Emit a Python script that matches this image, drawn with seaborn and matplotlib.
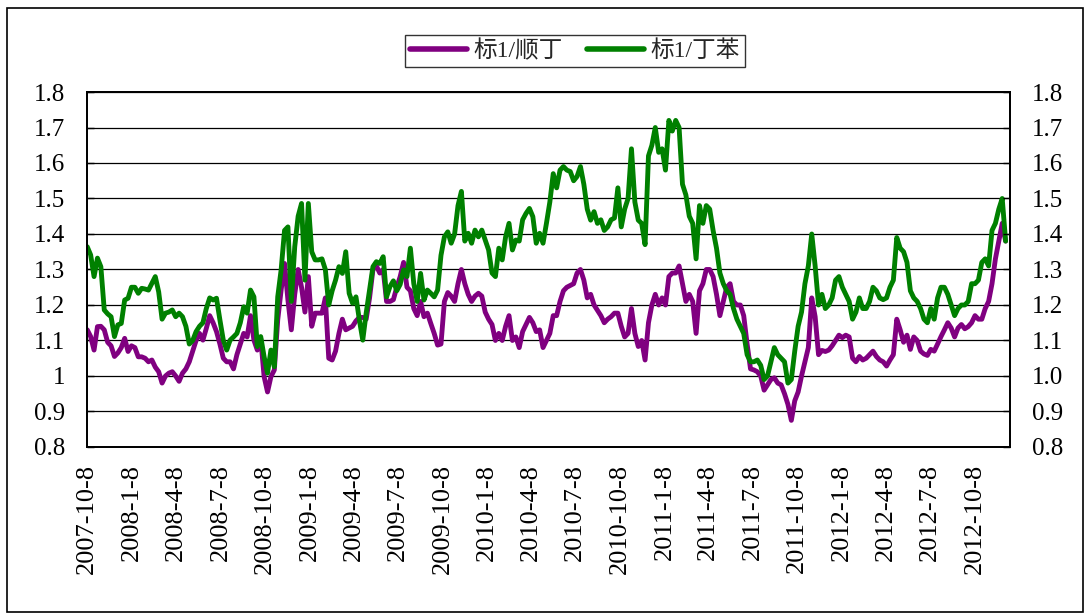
import pandas as pd
import seaborn as sns
import matplotlib.pyplot as plt
from matplotlib.patches import Rectangle

# weekly readings, first week 2007-10-08
start_date = '2007-10-08'
end_date = '2012-12-19'

ratio_shunding = [  # 标1/顺丁
    1.130, 1.111, 1.073, 1.139, 1.140, 1.130, 1.095, 1.085, 1.055, 1.065,
    1.080, 1.106, 1.069, 1.085, 1.080, 1.054, 1.054, 1.050, 1.040, 1.045,
    1.025, 1.012, 0.980, 1.000, 1.008, 1.012, 1.000, 0.985, 1.008, 1.020,
    1.040, 1.070, 1.100, 1.120, 1.101, 1.134, 1.170, 1.150, 1.125, 1.090,
    1.050, 1.040, 1.040, 1.020, 1.060, 1.090, 1.120, 1.110, 1.170, 1.101,
    1.073, 1.106, 0.998, 0.955, 0.998, 1.017, 1.158, 1.242, 1.317, 1.214,
    1.130, 1.230, 1.300, 1.250, 1.180, 1.280, 1.140, 1.177, 1.177, 1.177,
    1.220, 1.050, 1.045, 1.070, 1.120, 1.160, 1.130, 1.135, 1.140, 1.155,
    1.165, 1.165, 1.160, 1.220, 1.300, 1.310, 1.290, 1.300, 1.210, 1.210,
    1.215, 1.250, 1.280, 1.320, 1.250, 1.240, 1.190, 1.170, 1.210, 1.167,
    1.177, 1.148, 1.120, 1.087, 1.090, 1.210, 1.235, 1.225, 1.210, 1.260,
    1.300, 1.260, 1.230, 1.210, 1.225, 1.233, 1.225, 1.180, 1.160, 1.145,
    1.100, 1.120, 1.100, 1.140, 1.170, 1.100, 1.110, 1.080, 1.125, 1.145,
    1.165, 1.150, 1.125, 1.130, 1.080, 1.100, 1.120, 1.170, 1.170, 1.210,
    1.240, 1.250, 1.255, 1.260, 1.290, 1.300, 1.270, 1.220, 1.230, 1.200,
    1.185, 1.170, 1.150, 1.160, 1.167, 1.177, 1.177, 1.140, 1.110, 1.120,
    1.190, 1.120, 1.083, 1.100, 1.045, 1.150, 1.200, 1.230, 1.200, 1.220,
    1.200, 1.280, 1.290, 1.290, 1.310, 1.260, 1.210, 1.230, 1.210, 1.120,
    1.240, 1.260, 1.300, 1.300, 1.280, 1.230, 1.170, 1.210, 1.250, 1.260,
    1.210, 1.200, 1.200, 1.170, 1.090, 1.020, 1.017, 1.012, 1.000, 0.960,
    0.975, 0.990, 0.995, 0.980, 0.975, 0.950, 0.920, 0.875, 0.930, 0.955,
    1.000, 1.040, 1.080, 1.220, 1.167, 1.060, 1.072, 1.069, 1.073, 1.085,
    1.100, 1.115, 1.108, 1.115, 1.110, 1.050, 1.040, 1.055, 1.045, 1.050,
    1.060, 1.070, 1.055, 1.045, 1.040, 1.028, 1.045, 1.060, 1.160, 1.130,
    1.095, 1.115, 1.075, 1.110, 1.100, 1.070, 1.062, 1.058, 1.075, 1.070,
    1.090, 1.111, 1.130, 1.150, 1.135, 1.110, 1.135, 1.145, 1.133, 1.139,
    1.150, 1.170, 1.160, 1.160, 1.190, 1.210, 1.260, 1.330, 1.380, 1.430,
    1.380,
]

ratio_dingben = [  # 标1/丁苯
    1.364, 1.341, 1.280, 1.332, 1.308, 1.186, 1.175, 1.167, 1.111, 1.144,
    1.148, 1.214, 1.219, 1.250, 1.250, 1.233, 1.247, 1.245, 1.242, 1.261,
    1.280, 1.237, 1.160, 1.177, 1.180, 1.186, 1.167, 1.177, 1.167, 1.140,
    1.090, 1.100, 1.125, 1.140, 1.150, 1.190, 1.220, 1.214, 1.219, 1.158,
    1.101, 1.073, 1.101, 1.110, 1.120, 1.150, 1.195, 1.177, 1.242, 1.223,
    1.083, 1.111, 1.054, 1.008, 1.073, 1.026, 1.223, 1.299, 1.410, 1.420,
    1.210, 1.364, 1.450, 1.486, 1.270, 1.486, 1.350, 1.327, 1.327, 1.330,
    1.300, 1.200, 1.240, 1.270, 1.308, 1.289, 1.350, 1.233, 1.205, 1.223,
    1.158, 1.101, 1.177, 1.242, 1.308, 1.322, 1.317, 1.336, 1.223, 1.252,
    1.268, 1.240, 1.258, 1.299, 1.280, 1.360, 1.260, 1.210, 1.289, 1.214,
    1.242, 1.233, 1.223, 1.242, 1.340, 1.392, 1.406, 1.374, 1.400, 1.480,
    1.520, 1.380, 1.402, 1.374, 1.411, 1.392, 1.411, 1.383, 1.355, 1.290,
    1.280, 1.360, 1.327, 1.392, 1.430, 1.355, 1.383, 1.380, 1.440, 1.458,
    1.472, 1.449, 1.374, 1.402, 1.374, 1.430, 1.490, 1.570, 1.530, 1.580,
    1.590, 1.580, 1.576, 1.550, 1.562, 1.590, 1.540, 1.470, 1.439, 1.463,
    1.430, 1.440, 1.410, 1.420, 1.440, 1.445, 1.530, 1.420, 1.470, 1.500,
    1.640, 1.490, 1.439, 1.430, 1.370, 1.620, 1.650, 1.700, 1.630, 1.640,
    1.580, 1.720, 1.690, 1.720, 1.700, 1.540, 1.510, 1.450, 1.430, 1.330,
    1.480, 1.430, 1.480, 1.470, 1.410, 1.360, 1.290, 1.260, 1.240, 1.230,
    1.190, 1.160, 1.140, 1.120, 1.060, 1.040, 1.040, 1.045, 1.030, 0.990,
    1.000, 1.040, 1.080, 1.060, 1.050, 1.040, 0.980, 0.990, 1.070, 1.140,
    1.180, 1.260, 1.310, 1.400, 1.310, 1.200, 1.230, 1.190, 1.200, 1.220,
    1.270, 1.280, 1.250, 1.230, 1.210, 1.160, 1.180, 1.220, 1.190, 1.190,
    1.210, 1.250, 1.240, 1.220, 1.215, 1.220, 1.250, 1.270, 1.390, 1.360,
    1.350, 1.320, 1.240, 1.220, 1.210, 1.190, 1.160, 1.150, 1.190, 1.160,
    1.220, 1.250, 1.250, 1.230, 1.200, 1.170, 1.190, 1.200, 1.200, 1.210,
    1.260, 1.260, 1.270, 1.320, 1.330, 1.310, 1.410, 1.430, 1.470, 1.500,
    1.380,
]

series_names = ['标1/顺丁', '标1/丁苯']
series_colors = ['#800080', '#008000']

tick_dates = ['2007-10-08', '2008-01-08', '2008-04-08', '2008-07-08', '2008-10-08',
              '2009-01-08', '2009-04-08', '2009-07-08', '2009-10-08', '2010-01-08',
              '2010-04-08', '2010-07-08', '2010-10-08', '2011-01-08', '2011-04-08',
              '2011-07-08', '2011-10-08', '2012-01-08', '2012-04-08', '2012-07-08',
              '2012-10-08']
tick_labels = ['2007-10-8', '2008-1-8', '2008-4-8', '2008-7-8', '2008-10-8',
               '2009-1-8', '2009-4-8', '2009-7-8', '2009-10-8', '2010-1-8',
               '2010-4-8', '2010-7-8', '2010-10-8', '2011-1-8', '2011-4-8',
               '2011-7-8', '2011-10-8', '2012-1-8', '2012-4-8', '2012-7-8',
               '2012-10-8']
y_ticks = [0.8, 0.9, 1.0, 1.1, 1.2, 1.3, 1.4, 1.5, 1.6, 1.7, 1.8]
left_labels = ['0.8', '0.9', '1', '1.1', '1.2', '1.3', '1.4', '1.5', '1.6', '1.7', '1.8']
right_labels = ['0.8', '0.9', '1.0', '1.1', '1.2', '1.3', '1.4', '1.5', '1.6', '1.7', '1.8']

weeks = pd.date_range(start_date, periods=len(ratio_shunding), freq='7D')
df = pd.concat([
    pd.DataFrame({'date': weeks, 'value': ratio_shunding, 'series': series_names[0]}),
    pd.DataFrame({'date': weeks, 'value': ratio_dingben, 'series': series_names[1]}),
])

sns.set_style('white')
plt.rcParams['font.family'] = ['Liberation Serif', 'Noto Sans CJK SC']

fig = plt.figure(figsize=(10.92, 6.15), dpi=100)
ax = fig.add_axes([0.0799, 0.2732, 0.8450, 0.5772])

sns.lineplot(data=df, x='date', y='value', hue='series', palette=series_colors,
             linewidth=3.5, ax=ax)

handles, labels = ax.get_legend_handles_labels()
ax.get_legend().remove()
leg = fig.legend(handles, labels, loc='center', bbox_to_anchor=(0.5266, 0.917),
                 ncol=2, fontsize=17, frameon=True, fancybox=False,
                 handlelength=2.4, handletextpad=0.3, columnspacing=1.0,
                 borderpad=0.2, edgecolor='black')
leg.get_frame().set_linewidth(1.0)
for h in leg.get_lines():
    h.set_linewidth(4)

ax.set_xlim(pd.Timestamp(start_date), pd.Timestamp(end_date))
ax.set_ylim(0.8, 1.8)
ax.set_xticks(pd.to_datetime(tick_dates))
ax.set_xticklabels(tick_labels, rotation=90, ha='center', va='top', fontsize=19)
ax.set_yticks(y_ticks)
ax.set_yticklabels(left_labels, fontsize=18)
ax.set_xlabel('')
ax.set_ylabel('')
ax.grid(axis='y', color='black', linewidth=0.9)
ax.grid(axis='x', visible=False)
ax.tick_params(axis='x', direction='in', length=6, width=1, pad=12, colors='black')
ax.tick_params(axis='y', direction='in', length=5, width=1, pad=16, colors='black')
for s in ax.spines.values():
    s.set_color('black')
    s.set_linewidth(1.3)

ax2 = ax.twinx()
ax2.set_ylim(0.8, 1.8)
ax2.set_yticks(y_ticks)
ax2.set_yticklabels(right_labels, fontsize=18)
ax2.tick_params(axis='y', direction='in', length=5, width=1, pad=16, colors='black')
for s in ax2.spines.values():
    s.set_color('black')
    s.set_linewidth(1.3)

fig.patches.append(Rectangle((7 / 1092, 3 / 615), 1076 / 1092, 604 / 615,
                             transform=fig.transFigure, fill=False,
                             edgecolor='black', linewidth=1.2))

fig.savefig('out.png', dpi=100)
